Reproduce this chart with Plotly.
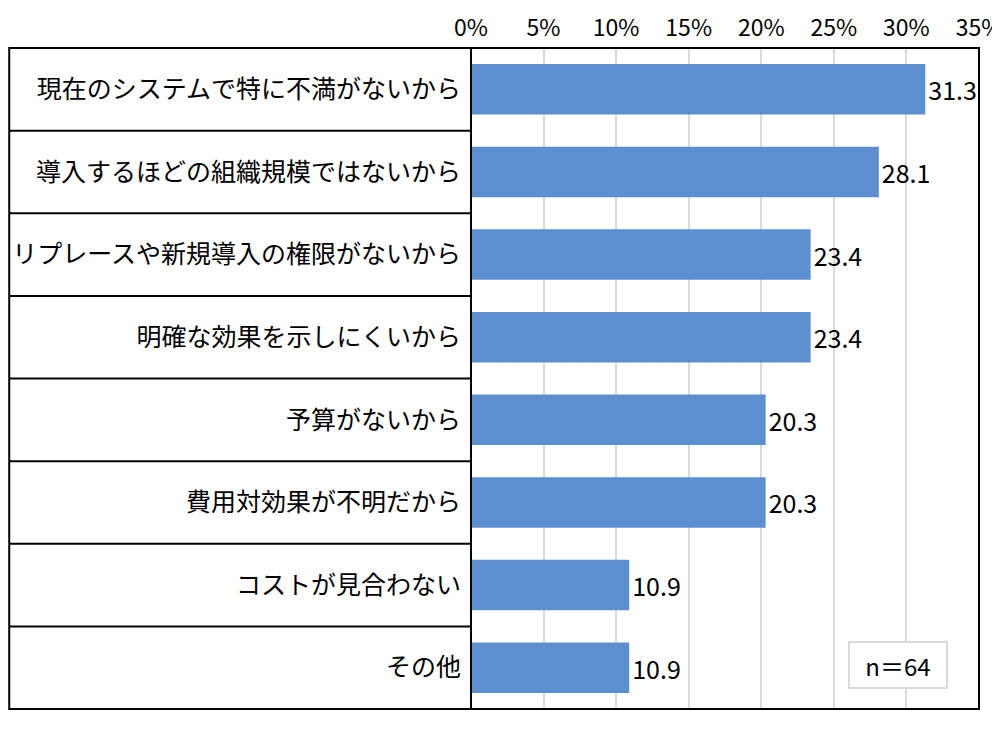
import plotly.graph_objects as go

# --- data ---
categories = [
    "現在のシステムで特に不満がないから",
    "導入するほどの組織規模ではないから",
    "リプレースや新規導入の権限がないから",
    "明確な効果を示しにくいから",
    "予算がないから",
    "費用対効果が不明だから",
    "コストが見合わない",
    "その他",
]
values = [31.3, 28.1, 23.4, 23.4, 20.3, 20.3, 10.9, 10.9]
tick_vals = [0, 5, 10, 15, 20, 25, 30, 35]
tick_text = [f"{v}%" for v in tick_vals]
n_label = "n＝64"

FONT = "Noto Sans CJK JP"
bar_color = "#5B8FCF"

fig = go.Figure()

fig.add_trace(go.Bar(
    x=values, y=categories,
    orientation="h",
    marker=dict(color=bar_color, line=dict(width=0)),
    width=0.61,
    text=[f"{v:.1f}" for v in values],
    textposition="outside",
    textfont=dict(size=25, color="black", family=FONT),
    cliponaxis=False,
    showlegend=False,
))

# label column: outer box + row separators (left of the plot area)
left = -0.909
shapes = [
    dict(type="rect", xref="paper", yref="paper", x0=left, x1=1, y0=0, y1=1,
         line=dict(color="black", width=2), layer="above"),
    dict(type="line", xref="paper", yref="paper", x0=0, x1=0, y0=0, y1=1,
         line=dict(color="black", width=2), layer="above"),
]
for k in range(len(categories) - 1):
    shapes.append(dict(type="line", xref="paper", yref="y", x0=left, x1=0,
                       y0=k + 0.5, y1=k + 0.5, line=dict(color="black", width=2)))

# figure sized so the page (with 8px body margin) fits the 1000x744 window
fig.update_layout(
    width=984, height=728,
    margin=dict(l=463, r=13, t=40, b=27),
    plot_bgcolor="white",
    paper_bgcolor="white",
    font=dict(family=FONT, color="black"),
    xaxis=dict(
        side="top",
        range=[0, 35],
        tickvals=tick_vals,
        ticktext=tick_text,
        tickfont=dict(size=23, family=FONT),
        ticklabelstandoff=6,
        ticklabeloverflow="allow",
        showgrid=True,
        gridcolor="#D9D9D9",
        gridwidth=1.5,
        zeroline=False,
        showline=False,
        ticks="",
        automargin=False,
    ),
    yaxis=dict(
        autorange="reversed",
        tickfont=dict(size=25, family=FONT),
        ticklabelstandoff=9,
        showgrid=False,
        zeroline=False,
        showline=False,
        ticks="",
        automargin=False,
    ),
    shapes=shapes,
    annotations=[dict(
        x=0.84, y=0.067, xref="paper", yref="paper",
        xanchor="center", yanchor="middle",
        text=n_label, showarrow=False,
        font=dict(size=24, family=FONT, color="black"),
        width=96, height=44,
        bgcolor="white", bordercolor="#D9D9D9", borderwidth=2, borderpad=0,
    )],
)

fig.write_html("out.html")
